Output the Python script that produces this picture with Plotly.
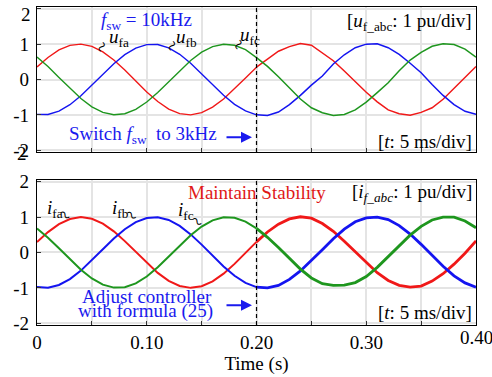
import plotly.graph_objects as go

# ---------------- data ----------------
t = [0.00, 0.01, 0.02, 0.03, 0.04, 0.05, 0.06, 0.07, 0.08, 0.09,
     0.10, 0.11, 0.12, 0.13, 0.14, 0.15, 0.16, 0.17, 0.18, 0.19,
     0.20, 0.21, 0.22, 0.23, 0.24, 0.25, 0.26, 0.27, 0.28, 0.29,
     0.30, 0.31, 0.32, 0.33, 0.34, 0.35, 0.36, 0.37, 0.38, 0.39, 0.40]

# top panel: filter voltages u_fa, u_fb, u_fc (pu)
u_fa = [0.352, 0.624, 0.835, 0.964, 0.999, 0.936, 0.781, 0.551, 0.266, -0.045,
        -0.352, -0.624, -0.835, -0.964, -0.999, -0.936, -0.781, -0.551, -0.266, 0.045,
        0.35, 0.57, 0.80, 0.93, 1.02, 0.97, 0.76, 0.53, 0.24, -0.07,
        -0.36, -0.63, -0.86, -0.97, -1.01, -0.93, -0.80, -0.56, -0.25, 0.06, 0.37]
u_fb = [-0.987, -0.989, -0.894, -0.712, -0.460, -0.163, 0.150, 0.448, 0.702, 0.888,
        0.987, 0.989, 0.894, 0.712, 0.460, 0.163, -0.150, -0.448, -0.702, -0.888,
        -1.00, -1.02, -0.92, -0.71, -0.45, -0.16, 0.10, 0.44, 0.70, 0.90,
        1.00, 1.01, 0.90, 0.71, 0.46, 0.19, -0.14, -0.45, -0.71, -0.90, -0.98]
u_fc = [0.635, 0.365, 0.059, -0.252, -0.539, -0.773, -0.931, -0.998, -0.968, -0.843,
        -0.635, -0.365, -0.059, 0.252, 0.539, 0.773, 0.931, 0.998, 0.968, 0.843,
        0.62, 0.37, 0.08, -0.25, -0.55, -0.80, -0.94, -1.02, -0.99, -0.86,
        -0.64, -0.37, -0.09, 0.25, 0.55, 0.77, 0.94, 1.01, 0.99, 0.86, 0.63]

# bottom panel: filter currents i_fa, i_fb, i_fc (pu)
i_fa = [0.296, 0.576, 0.801, 0.947, 1.000, 0.955, 0.817, 0.599, 0.322, 0.014,
        -0.296, -0.576, -0.801, -0.947, -1.000, -0.955, -0.817, -0.599, -0.322, -0.014,
        0.30, 0.58, 0.80, 0.95, 1.01, 0.97, 0.82, 0.60, 0.32, 0.02,
        -0.29, -0.57, -0.79, -0.93, -0.98, -0.95, -0.81, -0.60, -0.33, -0.02, 0.33]
i_fb = [-0.975, -0.996, -0.919, -0.752, -0.512, -0.222, 0.091, 0.394, 0.659, 0.859,
        0.975, 0.996, 0.919, 0.752, 0.512, 0.222, -0.091, -0.394, -0.659, -0.859,
        -0.98, -1.00, -0.93, -0.76, -0.52, -0.23, 0.08, 0.39, 0.66, 0.87,
        0.98, 1.00, 0.93, 0.76, 0.52, 0.23, -0.09, -0.39, -0.66, -0.86, -0.98]
i_fc = [0.680, 0.419, 0.118, -0.194, -0.488, -0.734, -0.908, -0.993, -0.981, -0.873,
        -0.680, -0.419, -0.118, 0.194, 0.488, 0.734, 0.908, 0.993, 0.981, 0.873,
        0.68, 0.43, 0.14, -0.18, -0.47, -0.72, -0.88, -0.93, -0.92, -0.85,
        -0.68, -0.42, -0.12, 0.19, 0.49, 0.74, 0.92, 1.00, 1.00, 0.89, 0.70]

x_tickvals = [0, 0.05, 0.10, 0.15, 0.20, 0.25, 0.30, 0.35, 0.40]
x_ticktext = ["0", "", "0.10", "", "0.20", "", "0.30", "", "0.40"]
y_tickvals = [-2, -1, 0, 1, 2]
y_ticktext = ["-2", "-1", "0", "1", "2"]
t_switch = 0.20

# ---------------- style ----------------
RED, GREEN, BLUE = "#f01818", "#1e961e", "#1414f0"
TXT_BLUE, TXT_RED = "#1a1aee", "#e01818"
FONT = "Liberation Serif"

fig = go.Figure()
split = t.index(t_switch)


def add_phase(values, color, xa, ya, w1, w2):
    fig.add_trace(go.Scatter(x=t[:split + 1], y=values[:split + 1], mode="lines",
                             line=dict(color=color, width=w1), xaxis=xa, yaxis=ya,
                             showlegend=False, hoverinfo="skip"))
    fig.add_trace(go.Scatter(x=t[split:], y=values[split:], mode="lines",
                             line=dict(color=color, width=w2), xaxis=xa, yaxis=ya,
                             showlegend=False, hoverinfo="skip"))


for vals, col in [(u_fa, RED), (u_fb, BLUE), (u_fc, GREEN)]:
    add_phase(vals, col, "x", "y", 1.4, 1.5)
for vals, col in [(i_fa, RED), (i_fb, BLUE), (i_fc, GREEN)]:
    add_phase(vals, col, "x2", "y2", 2.0, 2.8)

axis_common = dict(showline=True, linecolor="black", linewidth=1.3, mirror=True,
                   showgrid=True, gridcolor="#e4e4e4", gridwidth=1.6,
                   ticks="inside", ticklen=4, tickcolor="#333", tickwidth=1,
                   zeroline=False, automargin=False,
                   tickfont=dict(family=FONT, size=19, color="black"))

x_ticktext_axis = x_ticktext[:-1] + [""]
y_ticktext_top = y_ticktext[:-1] + [""]

fig.update_layout(
    width=492, height=377,
    margin=dict(l=37, r=16, t=7, b=52),
    paper_bgcolor="white", plot_bgcolor="white",
    xaxis=dict(domain=[0, 1], range=[0, 0.4], tickvals=x_tickvals, ticktext=x_ticktext_axis,
               showticklabels=False, anchor="y", **axis_common),
    yaxis=dict(domain=[0.544, 1], range=[-2.05, 2.05], tickvals=y_tickvals, ticktext=y_ticktext_top,
               anchor="x", ticklabelstandoff=3, **axis_common),
    xaxis2=dict(domain=[0, 1], range=[0, 0.4], tickvals=x_tickvals, ticktext=x_ticktext_axis,
                anchor="y2", ticklabelstandoff=0,
                title=dict(text="Time (s)", font=dict(family=FONT, size=19, color="black"), standoff=1),
                **axis_common),
    yaxis2=dict(domain=[0, 0.456], range=[-2.05, 2.05], tickvals=y_tickvals, ticktext=y_ticktext,
                anchor="x2", ticklabelstandoff=3, **axis_common),
)

# dashed switching line
for xr, yr in [("x", "y domain"), ("x2", "y2 domain")]:
    fig.add_shape(type="line", xref=xr, yref=yr, x0=t_switch, x1=t_switch, y0=0, y1=1,
                  line=dict(color="black", width=1.2, dash="4px,3px"))


def txt(text, x, y, xr, yr, color="black", size=19, xanchor="left", yanchor="middle",
        xshift=0, yshift=0, angle=0):
    fig.add_annotation(text=text, x=x, y=y, xref=xr, yref=yr, showarrow=False,
                       xanchor=xanchor, yanchor=yanchor, xshift=xshift, yshift=yshift,
                       textangle=angle, borderpad=0,
                       font=dict(family=FONT, size=size, color=color))


# top "2" tick label, drawn in figure-pixel space below the figure top edge
fig.add_annotation(text=y_ticktext[-1], x=0, y=1, xref="paper", yref="paper",
                   xanchor="right", yanchor="top", xshift=-5, yshift=4, showarrow=False,
                   borderpad=0, font=dict(family=FONT, size=19, color="black"))
# "0.40" tick label and the doubled "2" glyph under the top panel's "-2"
txt(x_ticktext[-1], x_tickvals[-1], 0, "x2", "paper", xanchor="center", yanchor="top", yshift=-1)
txt(y_ticktext[-1], x_tickvals[0], y_tickvals[0], "x", "y", xanchor="right", xshift=-9, yshift=-3)

# ---- top panel texts ----
txt("<i>f</i><sub>sw</sub> = 10kHz", 0.0574, 1.65, "x", "y", TXT_BLUE)
txt("Switch <i>f</i><sub>sw</sub>  to 3kHz", 0.0282, -1.57, "x", "y", TXT_BLUE)
txt("[<i>u</i><sub>f_abc</sub>: 1 pu/div]", 1, 1.62, "x domain", "y", xanchor="right", xshift=-3)
txt("[<i>t</i>: 5 ms/div]", 1, -1.75, "x domain", "y", xanchor="right", xshift=-3)
txt("<i>u</i><sub>fa</sub>", 0.0647, 1.17, "x", "y", size=19)
txt("<i>u</i><sub>fb</sub>", 0.1257, 1.17, "x", "y", size=19)
txt("<i>u</i><sub>fc</sub>", 0.1845, 1.22, "x", "y", size=19)
for xs, ys in [(0.0592, 0.94), (0.1221, 0.96), (0.1836, 0.99)]:
    txt("~", xs, ys, "x", "y", size=20, xanchor="center", angle=-55)

fig.add_annotation(x=0.1959, y=-1.63, ax=0.1713, ay=-1.63, xref="x", yref="y",
                   axref="x", ayref="y", text="", showarrow=True, arrowhead=2,
                   arrowsize=1.1, arrowwidth=2, arrowcolor=TXT_BLUE)

# ---- bottom panel texts ----
txt("Maintain Stability", 0.1367, 1.71, "x2", "y2", TXT_RED)
txt("[<i>i<sub>f_abc</sub></i>: 1 pu/div]", 1, 1.67, "x2 domain", "y2", xanchor="right", xshift=-3)
txt("[<i>t</i>: 5 ms/div]", 1, -1.71, "x2 domain", "y2", xanchor="right", xshift=-3)
txt("Adjust controller", 0.1002, -1.24, "x2", "y2", TXT_BLUE, xanchor="center")
txt("with formula (25)", 0.0989, -1.66, "x2", "y2", TXT_BLUE, xanchor="center")
txt("<i>i</i><sub>fa</sub>", 0.0082, 1.24, "x2", "y2", size=19)
txt("<i>i</i><sub>fb</sub>", 0.0674, 1.24, "x2", "y2", size=19)
txt("<i>i</i><sub>fc</sub>", 0.1275, 1.16, "x2", "y2", size=19)
for xs, ys in [(0.0262, 1.07), (0.0863, 1.05), (0.1460, 0.89)]:
    txt("~", xs, ys, "x2", "y2", size=20, xanchor="center", angle=45)

fig.add_annotation(x=0.1959, y=-1.49, ax=0.1713, ay=-1.49, xref="x2", yref="y2",
                   axref="x2", ayref="y2", text="", showarrow=True, arrowhead=2,
                   arrowsize=1.1, arrowwidth=2, arrowcolor=TXT_BLUE)

fig.write_html("out.html")
